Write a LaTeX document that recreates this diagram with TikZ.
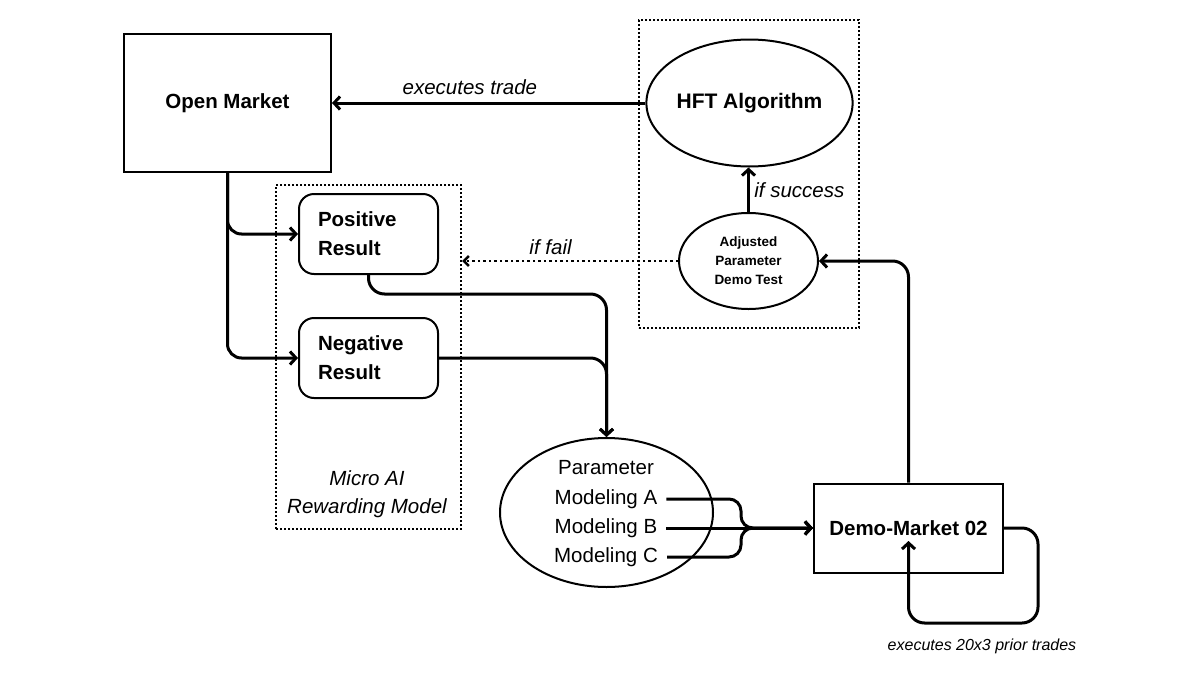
\documentclass[tikz,border=0pt]{standalone}
\usepackage{fontspec}
\setmainfont{Liberation Sans}
\usetikzlibrary{arrows.meta,shapes.geometric,calc}
\begin{document}
\begin{tikzpicture}[x=1pt,y=-1pt,
  txt/.style={font=\fontsize{20.5}{29}\selectfont},
  btxt/.style={font=\fontsize{20.5}{29}\selectfont\bfseries},
  itxt/.style={font=\fontsize{20.5}{28}\selectfont\itshape},
  boxnode/.style={draw, line width=2pt, rectangle, inner sep=0pt},
  rbox/.style={draw, line width=2pt, rectangle, rounded corners=15pt, minimum width=139pt, minimum height=80pt, text width=101pt, align=left, inner xsep=19pt, inner ysep=0pt, btxt},
  ell/.style={draw, line width=2pt, ellipse, inner sep=0pt},
  frame/.style={draw, line width=2pt, dash pattern=on 2pt off 2pt, rectangle, inner sep=0pt},
  conn/.style={line width=3pt, line join=round, -{Straight Barb[length=6pt,width=13pt]}},
  dotconn/.style={line width=2.5pt, dash pattern=on 2.5pt off 3pt, -{Straight Barb[length=5pt,width=10pt]}}
]
\useasboundingbox (0,0) rectangle (1200,675);

% frames
\node[frame, minimum width=220pt, minimum height=308pt] (hftbox) at (749,174) {};
\node[frame, minimum width=185pt, minimum height=344pt] (micro) at (368.5,357) {};

% nodes
\node[boxnode, minimum width=207pt, minimum height=138pt, btxt] (om) at (227.5,103) {Open Market};
\node[ell, minimum width=199pt, minimum height=127pt, font=\fontsize{21}{29}\selectfont\bfseries] (hft) at (749.5,103) {HFT Algorithm};
\node[ell, fill=white, minimum width=139pt, minimum height=96pt, align=center, font=\fontsize{13.5}{19}\selectfont\bfseries] (adj) at (748.5,261) {Adjusted\\Parameter\\Demo Test};
\node[rbox] (pos) at (368.5,234) {Positive\\Result};
\node[rbox] (neg) at (368.5,358) {Negative\\Result};
\node[itxt, align=center] (mlabel) at (367,494) {Micro AI\\Rewarding Model};
\node[ell, minimum width=213pt, minimum height=149pt] (param) at (606.5,512.5) {};
\node[txt] (ptitle) at (606,468) {Parameter};
\node[txt, inner xsep=9pt] (mA) at (606,499) {Modeling A};
\node[txt, inner xsep=9pt] (mB) at (606,528) {Modeling B};
\node[txt, inner xsep=9pt] (mC) at (606,557) {Modeling C};
\node[boxnode, minimum width=189pt, minimum height=89pt, btxt] (dm) at (908.5,528) {Demo-Market 02};
\node[font=\fontsize{16}{18}\selectfont\itshape] (looplabel) at (982,646) {executes 20x3 prior trades};

% connectors
\draw[conn] (hft.west) -- (om.east) node[pos=0.56, above=3pt, itxt] {executes trade};
\draw[conn] (adj.north) -- (adj.north |- hft.south) node[midway, right=1pt, itxt] {if success};
\draw[dotconn] (adj.west) -- (micro.east |- adj.west) node[pos=0.59, above=2pt, itxt] {if fail};
\draw[conn, rounded corners=14pt] (om.south) |- (pos.west);
\draw[conn, rounded corners=14pt] (om.south) |- (neg.west);
\coordinate (j1) at (606.5,294);
\draw[conn, rounded corners=16pt] (pos.south) |- (j1) -- (param.north);
\draw[conn, rounded corners=16pt] (neg.east) -| (param.north);
\coordinate (br) at (741,528);
\draw[conn, rounded corners=12pt] (mA.east) -| (br) -- (dm.west);
\draw[conn] (mB.east) -- (dm.west);
\draw[conn, rounded corners=12pt] (mC.east) -| (br) -- (dm.west);
\draw[conn, rounded corners=16pt] (dm.north) |- (adj.east);
\coordinate (lc) at (1038,623);
\coordinate (lp) at (908.5,541);
\draw[conn, rounded corners=16pt] (dm.east) -| (lc) -| (lp);
\end{tikzpicture}
\end{document}
